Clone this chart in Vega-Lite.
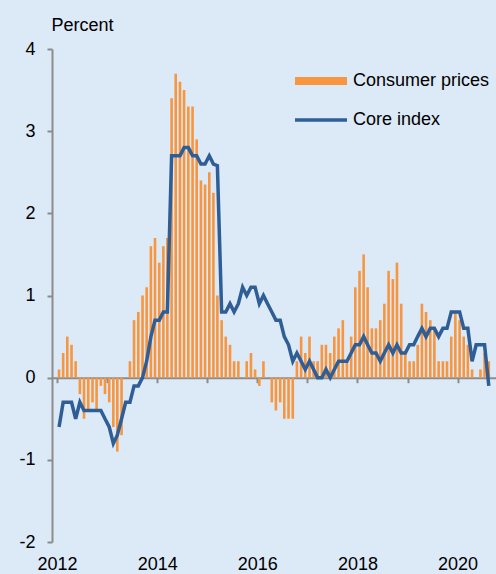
{
  "$schema": "https://vega.github.io/schema/vega-lite/v6.json",
  "width": 444,
  "height": 493,
  "autosize": {"type": "none"},
  "padding": {"left": 52, "top": 49, "right": 0, "bottom": 32},
  "background": "#dce9f7",
  "config": {
    "view": {"stroke": null},
    "font": "Liberation Sans",
    "axis": {"labelFont": "Liberation Sans", "titleFont": "Liberation Sans", "labelFontSize": 18, "labelColor": "#000000", "domainColor": "#8c8c8c", "tickColor": "#8c8c8c", "domainWidth": 2, "tickWidth": 2, "grid": false},
    "legend": {"labelFont": "Liberation Sans", "labelFontSize": 18, "labelColor": "#000000"}
  },
  "data": {"values": [
    {"date": "2012-01-16", "cpi": 0.1, "core": -0.6},
    {"date": "2012-02-15", "cpi": 0.3, "core": -0.3},
    {"date": "2012-03-16", "cpi": 0.5, "core": -0.3},
    {"date": "2012-04-16", "cpi": 0.4, "core": -0.3},
    {"date": "2012-05-16", "cpi": 0.2, "core": -0.5},
    {"date": "2012-06-16", "cpi": -0.2, "core": -0.3},
    {"date": "2012-07-16", "cpi": -0.5, "core": -0.4},
    {"date": "2012-08-16", "cpi": -0.4, "core": -0.4},
    {"date": "2012-09-16", "cpi": -0.3, "core": -0.4},
    {"date": "2012-10-16", "cpi": -0.4, "core": -0.4},
    {"date": "2012-11-16", "cpi": -0.1, "core": -0.4},
    {"date": "2012-12-16", "cpi": -0.2, "core": -0.5},
    {"date": "2013-01-16", "cpi": -0.3, "core": -0.6},
    {"date": "2013-02-15", "cpi": -0.6, "core": -0.8},
    {"date": "2013-03-16", "cpi": -0.9, "core": -0.7},
    {"date": "2013-04-16", "cpi": -0.7, "core": -0.5},
    {"date": "2013-05-16", "cpi": 0.0, "core": -0.3},
    {"date": "2013-06-16", "cpi": 0.2, "core": -0.3},
    {"date": "2013-07-16", "cpi": 0.7, "core": -0.1},
    {"date": "2013-08-16", "cpi": 0.8, "core": -0.1},
    {"date": "2013-09-16", "cpi": 1.0, "core": 0.0},
    {"date": "2013-10-16", "cpi": 1.1, "core": 0.2},
    {"date": "2013-11-16", "cpi": 1.6, "core": 0.5},
    {"date": "2013-12-16", "cpi": 1.7, "core": 0.7},
    {"date": "2014-01-16", "cpi": 1.4, "core": 0.7},
    {"date": "2014-02-15", "cpi": 1.6, "core": 0.8},
    {"date": "2014-03-16", "cpi": 1.7, "core": 0.8},
    {"date": "2014-04-16", "cpi": 3.4, "core": 2.7},
    {"date": "2014-05-16", "cpi": 3.7, "core": 2.7},
    {"date": "2014-06-16", "cpi": 3.6, "core": 2.7},
    {"date": "2014-07-16", "cpi": 3.5, "core": 2.8},
    {"date": "2014-08-16", "cpi": 3.3, "core": 2.8},
    {"date": "2014-09-16", "cpi": 3.3, "core": 2.7},
    {"date": "2014-10-16", "cpi": 2.9, "core": 2.7},
    {"date": "2014-11-16", "cpi": 2.4, "core": 2.6},
    {"date": "2014-12-16", "cpi": 2.35, "core": 2.6},
    {"date": "2015-01-16", "cpi": 2.5, "core": 2.7},
    {"date": "2015-02-15", "cpi": 2.25, "core": 2.6},
    {"date": "2015-03-16", "cpi": 1.0, "core": 2.58},
    {"date": "2015-04-16", "cpi": 0.7, "core": 0.8},
    {"date": "2015-05-16", "cpi": 0.5, "core": 0.8},
    {"date": "2015-06-16", "cpi": 0.4, "core": 0.9},
    {"date": "2015-07-16", "cpi": 0.2, "core": 0.8},
    {"date": "2015-08-16", "cpi": 0.2, "core": 0.9},
    {"date": "2015-09-16", "cpi": 0.0, "core": 1.1},
    {"date": "2015-10-16", "cpi": 0.2, "core": 1.0},
    {"date": "2015-11-16", "cpi": 0.3, "core": 1.1},
    {"date": "2015-12-16", "cpi": 0.1, "core": 1.1},
    {"date": "2016-01-16", "cpi": -0.1, "core": 0.9},
    {"date": "2016-02-15", "cpi": 0.2, "core": 1.0},
    {"date": "2016-03-16", "cpi": 0.0, "core": 0.9},
    {"date": "2016-04-16", "cpi": -0.3, "core": 0.8},
    {"date": "2016-05-16", "cpi": -0.4, "core": 0.7},
    {"date": "2016-06-16", "cpi": -0.3, "core": 0.7},
    {"date": "2016-07-16", "cpi": -0.5, "core": 0.5},
    {"date": "2016-08-16", "cpi": -0.5, "core": 0.4},
    {"date": "2016-09-16", "cpi": -0.5, "core": 0.2},
    {"date": "2016-10-16", "cpi": 0.2, "core": 0.3},
    {"date": "2016-11-16", "cpi": 0.5, "core": 0.2},
    {"date": "2016-12-16", "cpi": 0.3, "core": 0.1},
    {"date": "2017-01-16", "cpi": 0.5, "core": 0.2},
    {"date": "2017-02-15", "cpi": 0.2, "core": 0.1},
    {"date": "2017-03-16", "cpi": 0.2, "core": 0.0},
    {"date": "2017-04-16", "cpi": 0.4, "core": 0.0},
    {"date": "2017-05-16", "cpi": 0.4, "core": 0.1},
    {"date": "2017-06-16", "cpi": 0.3, "core": 0.0},
    {"date": "2017-07-16", "cpi": 0.5, "core": 0.1},
    {"date": "2017-08-16", "cpi": 0.6, "core": 0.2},
    {"date": "2017-09-16", "cpi": 0.7, "core": 0.2},
    {"date": "2017-10-16", "cpi": 0.2, "core": 0.2},
    {"date": "2017-11-16", "cpi": 0.5, "core": 0.3},
    {"date": "2017-12-16", "cpi": 1.1, "core": 0.4},
    {"date": "2018-01-16", "cpi": 1.3, "core": 0.4},
    {"date": "2018-02-15", "cpi": 1.5, "core": 0.5},
    {"date": "2018-03-16", "cpi": 1.1, "core": 0.4},
    {"date": "2018-04-16", "cpi": 0.6, "core": 0.3},
    {"date": "2018-05-16", "cpi": 0.6, "core": 0.3},
    {"date": "2018-06-16", "cpi": 0.7, "core": 0.2},
    {"date": "2018-07-16", "cpi": 0.9, "core": 0.3},
    {"date": "2018-08-16", "cpi": 1.3, "core": 0.4},
    {"date": "2018-09-16", "cpi": 1.2, "core": 0.3},
    {"date": "2018-10-16", "cpi": 1.4, "core": 0.4},
    {"date": "2018-11-16", "cpi": 0.9, "core": 0.3},
    {"date": "2018-12-16", "cpi": 0.3, "core": 0.3},
    {"date": "2019-01-16", "cpi": 0.2, "core": 0.4},
    {"date": "2019-02-15", "cpi": 0.2, "core": 0.4},
    {"date": "2019-03-16", "cpi": 0.4, "core": 0.5},
    {"date": "2019-04-16", "cpi": 0.9, "core": 0.6},
    {"date": "2019-05-16", "cpi": 0.8, "core": 0.5},
    {"date": "2019-06-16", "cpi": 0.7, "core": 0.6},
    {"date": "2019-07-16", "cpi": 0.6, "core": 0.6},
    {"date": "2019-08-16", "cpi": 0.2, "core": 0.5},
    {"date": "2019-09-16", "cpi": 0.2, "core": 0.6},
    {"date": "2019-10-16", "cpi": 0.2, "core": 0.6},
    {"date": "2019-11-16", "cpi": 0.5, "core": 0.8},
    {"date": "2019-12-16", "cpi": 0.8, "core": 0.8},
    {"date": "2020-01-16", "cpi": 0.7, "core": 0.8},
    {"date": "2020-02-15", "cpi": 0.5, "core": 0.6},
    {"date": "2020-03-16", "cpi": 0.4, "core": 0.6},
    {"date": "2020-04-16", "cpi": 0.1, "core": 0.2},
    {"date": "2020-05-16", "cpi": 0.0, "core": 0.4},
    {"date": "2020-06-16", "cpi": 0.1, "core": 0.4},
    {"date": "2020-07-16", "cpi": 0.3, "core": 0.4},
    {"date": "2020-08-16", "cpi": 0.2, "core": -0.1}
  ]},
  "layer": [
    {
      "mark": {"type": "bar", "width": 2.6},
      "encoding": {
        "x": {
          "field": "date", "type": "temporal",
          "scale": {"type": "utc", "domain": ["2012-01-01", "2020-09-01"]},
          "axis": {
            "orient": "bottom", "offset": -164.3, "labels": false, "domain": true, "ticks": true, "tickSize": 5, "title": null,
            "values": [
              {"year": 2012, "month": 1, "date": 1, "utc": true}, {"year": 2013, "month": 1, "date": 1, "utc": true},
              {"year": 2014, "month": 1, "date": 1, "utc": true}, {"year": 2015, "month": 1, "date": 1, "utc": true},
              {"year": 2016, "month": 1, "date": 1, "utc": true}, {"year": 2017, "month": 1, "date": 1, "utc": true},
              {"year": 2018, "month": 1, "date": 1, "utc": true}, {"year": 2019, "month": 1, "date": 1, "utc": true},
              {"year": 2020, "month": 1, "date": 1, "utc": true}
            ]
          }
        },
        "y": {
          "field": "cpi", "type": "quantitative",
          "scale": {"domain": [-2, 4], "nice": false},
          "axis": {
            "values": [-2, -1, 0, 1, 2, 3, 4], "tickSize": 5, "labelPadding": 12, "labelExpr": "'' + datum.value",
            "title": "Percent", "titleAngle": 0, "titleAlign": "left", "titleBaseline": "middle", "titleX": -1, "titleY": -24,
            "titleFontSize": 18, "titleFontWeight": "normal", "titleColor": "#000000"
          }
        },
        "fill": {
          "datum": "Consumer prices",
          "scale": {"range": ["#f7963f"]},
          "legend": {"orient": "none", "legendX": 243, "legendY": 6, "title": null, "symbolType": "M-1,-0.15H1V0.15H-1Z", "symbolSize": 2704, "symbolStrokeWidth": 0, "labelOffset": 6}
        }
      }
    },
    {
      "mark": {"type": "line", "strokeWidth": 3.5},
      "encoding": {
        "x": {
          "field": "date", "type": "temporal",
          "axis": {
            "orient": "bottom", "labels": true, "domain": false, "ticks": false, "title": null, "format": "%Y", "labelPadding": 13,
            "values": [
              {"year": 2012, "month": 1, "date": 1, "utc": true}, {"year": 2014, "month": 1, "date": 1, "utc": true},
              {"year": 2016, "month": 1, "date": 1, "utc": true}, {"year": 2018, "month": 1, "date": 1, "utc": true},
              {"year": 2020, "month": 1, "date": 1, "utc": true}
            ]
          }
        },
        "y": {"field": "core", "type": "quantitative"},
        "stroke": {
          "datum": "Core index",
          "scale": {"range": ["#2e5e95"]},
          "legend": {"orient": "none", "legendX": 241, "legendY": 43, "title": null, "symbolType": "stroke", "symbolSize": 2704, "symbolStrokeWidth": 3.5, "labelOffset": 4}
        }
      }
    }
  ],
  "resolve": {"axis": {"x": "independent"}}
}
